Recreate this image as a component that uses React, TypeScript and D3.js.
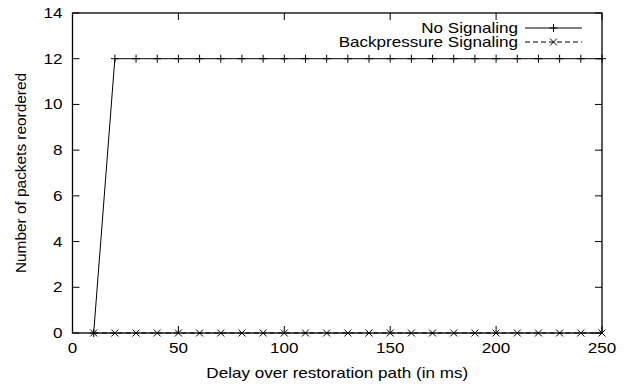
import * as d3 from "d3";

const delays = [10, 20, 30, 40, 50, 60, 70, 80, 90, 100, 110, 120, 130, 140, 150, 160, 170, 180, 190, 200, 210, 220, 230, 240, 250];
const noSignaling = [0, 12, 12, 12, 12, 12, 12, 12, 12, 12, 12, 12, 12, 12, 12, 12, 12, 12, 12, 12, 12, 12, 12, 12, 12];
const backpressure = [0, 0, 0, 0, 0, 0, 0, 0, 0, 0, 0, 0, 0, 0, 0, 0, 0, 0, 0, 0, 0, 0, 0, 0, 0];
const xTicks = [0, 50, 100, 150, 200, 250];
const yTicks = [0, 2, 4, 6, 8, 10, 12, 14];
const seriesNames = ["No Signaling", "Backpressure Signaling"];

const font = "'Liberation Sans', Arial, Helvetica, sans-serif";
const sx = 1.22;

function Plus({ x, y }: { x: number; y: number }) {
  return <path d={`M${x - 4},${y}H${x + 4}M${x},${y - 4}V${y + 4}`} stroke="#000" strokeWidth={1} />;
}

function Cross({ x, y }: { x: number; y: number }) {
  return <path d={`M${x - 3.5},${y - 3.5}L${x + 3.5},${y + 3.5}M${x - 3.5},${y + 3.5}L${x + 3.5},${y - 3.5}`} stroke="#000" strokeWidth={1} />;
}

function Label({ x, y, anchor, children }: { x: number; y: number; anchor: "start" | "middle" | "end"; children: string }) {
  return (
    <text transform={`translate(${x},${y}) scale(${sx},1)`} textAnchor={anchor} fontFamily={font} fontSize={14} fill="#000">
      {children}
    </text>
  );
}

export default function App() {
  const width = 630;
  const height = 386;
  const plot = { left: 72.5, right: 602, top: 13, bottom: 333 };
  const x = d3.scaleLinear([0, 250], [plot.left, plot.right]);
  const y = d3.scaleLinear([0, 14], [plot.bottom, plot.top]);
  const tick = 7;
  const pts = (vals: number[]) => delays.map((d, i) => [d, vals[i]] as [number, number]);
  const line = d3.line<[number, number]>().x(p => x(p[0])).y(p => y(p[1]));

  return (
    <svg width={width} height={height} style={{ position: "absolute", left: 0, top: 0, background: "#fff" }}>
      {yTicks.map(t => (
        <g key={`y${t}`}>
          <line x1={plot.left} x2={plot.left + tick} y1={y(t)} y2={y(t)} stroke="#000" />
          <line x1={plot.right} x2={plot.right - tick} y1={y(t)} y2={y(t)} stroke="#000" />
          <Label x={plot.left - 10} y={y(t) + 5} anchor="end">{String(t)}</Label>
        </g>
      ))}
      {xTicks.map(t => (
        <g key={`x${t}`}>
          <line x1={x(t)} x2={x(t)} y1={plot.bottom} y2={plot.bottom - tick} stroke="#000" />
          <line x1={x(t)} x2={x(t)} y1={plot.top} y2={plot.top + tick} stroke="#000" />
          <Label x={x(t)} y={plot.bottom + 20} anchor="middle">{String(t)}</Label>
        </g>
      ))}
      <rect x={plot.left} y={plot.top} width={plot.right - plot.left} height={plot.bottom - plot.top} fill="none" stroke="#000" strokeWidth={1.3} />

      <path d={line(pts(noSignaling)) ?? undefined} fill="none" stroke="#000" strokeWidth={1} />
      {pts(noSignaling).map(p => <Plus key={`p${p[0]}`} x={x(p[0])} y={y(p[1])} />)}
      <path d={line(pts(backpressure)) ?? undefined} fill="none" stroke="#000" strokeWidth={1} strokeDasharray="5,3" />
      {pts(backpressure).map(p => <Cross key={`c${p[0]}`} x={x(p[0])} y={y(p[1])} />)}

      <Label x={518} y={33} anchor="end">{seriesNames[0]}</Label>
      <line x1={525} x2={582} y1={28} y2={28} stroke="#000" />
      <Plus x={553.5} y={28} />
      <Label x={518} y={47} anchor="end">{seriesNames[1]}</Label>
      <line x1={525} x2={582} y1={42} y2={42} stroke="#000" strokeDasharray="5,3" />
      <Cross x={553.5} y={42} />

      <Label x={(plot.left + plot.right) / 2} y={378} anchor="middle">Delay over restoration path (in ms)</Label>
      <text
        transform={`translate(26,${(plot.top + plot.bottom) / 2}) rotate(-90) scale(1.1,1)`}
        textAnchor="middle"
        fontFamily={font}
        fontSize={14}
        fill="#000"
      >
        Number of packets reordered
      </text>
    </svg>
  );
}
